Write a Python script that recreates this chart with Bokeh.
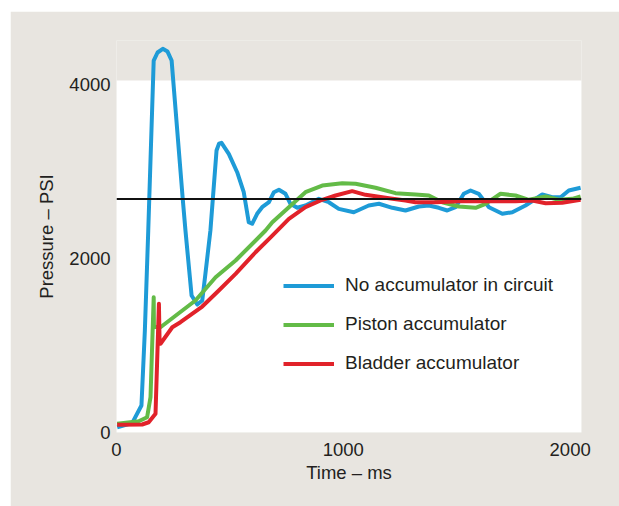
from bokeh.plotting import figure
from bokeh.layouts import column, row
from bokeh.models import Range1d, FixedTicker, Span, Legend, LegendItem, Spacer
from bokeh.embed import file_html
from bokeh.resources import INLINE

# ---- data ----
blue_x = [3, 69, 110, 125, 140, 164, 181, 204, 225, 243, 292, 304, 331, 356, 378, 392, 414,
          441, 452, 463, 495, 532, 561, 583, 598, 620, 642, 672, 694, 716, 745, 767, 797, 833,
          892, 936, 980, 1046, 1112, 1157, 1216, 1274, 1333, 1377, 1421, 1458, 1495, 1531,
          1561, 1597, 1642, 1701, 1745, 1803, 1877, 1921, 1958, 1994, 2046]
blue_y = [61, 107, 310, 1172, 2322, 4276, 4368, 4410, 4379, 4276, 2686, 2322, 1575, 1471, 1517,
          1824, 2322, 3241, 3320, 3330, 3203, 2992, 2762, 2417, 2399, 2514, 2590, 2647, 2762,
          2790, 2744, 2629, 2583, 2609, 2686, 2647, 2571, 2532, 2609, 2629, 2583, 2552, 2598,
          2609, 2583, 2552, 2590, 2744, 2782, 2744, 2590, 2514, 2532, 2609, 2736, 2705, 2705,
          2782, 2813]

green_x = [3, 98, 135, 150, 164, 165, 194, 348, 437, 525, 657, 687, 760, 833, 907, 995, 1054,
           1142, 1230, 1318, 1377, 1436, 1509, 1583, 1627, 1693, 1759, 1818, 1892, 1950, 2009,
           2046]
green_y = [100, 130, 176, 406, 1555, 1215, 1210, 1517, 1785, 1977, 2322, 2417, 2590, 2762,
           2839, 2866, 2859, 2813, 2751, 2736, 2724, 2647, 2598, 2583, 2629, 2744, 2724, 2675,
           2713, 2675, 2686, 2713]

red_x = [3, 113, 142, 172, 187, 190, 194, 246, 282, 378, 451, 525, 613, 687, 760, 833, 907,
         966, 1039, 1098, 1201, 1274, 1318, 1407, 1509, 1612, 1759, 1833, 1892, 1965, 2046]
red_y = [89, 92, 118, 215, 1479, 1040, 1020, 1210, 1268, 1448, 1632, 1824, 2072, 2264, 2456,
         2590, 2675, 2724, 2774, 2732, 2693, 2667, 2647, 2647, 2659, 2659, 2659, 2667, 2636,
         2640, 2675]

series_names = ["No accumulator in circuit", "Piston accumulator", "Bladder accumulator"]
reference_level = 2685
x_ticks = [0, 1000, 2000]
y_ticks = [0, 2000, 4000]
x_axis_title = "Time – ms"
y_axis_title = "Pressure – PSI"

# ---- styles ----
BEIGE = "#e8e5e0"
BLUE = "#1e9bd7"
GREEN = "#63bb47"
RED = "#e1222a"
TEXT = "#231f20"
FONT = "Liberation Sans"
FS_AXIS = "18.5px"
FS_LEGEND = "19px"

X_MAX = 2050
Y_MAX = 4506
WHITE_TOP = 4046

p = figure(width=609, height=495, output_backend="svg", toolbar_location=None,
           x_range=Range1d(0, X_MAX), y_range=Range1d(0, Y_MAX),
           min_border_left=106, min_border_right=38, min_border_top=29,
           min_border_bottom=74)
p.background_fill_color = BEIGE
p.border_fill_color = BEIGE
p.outline_line_color = None
p.xgrid.visible = False
p.ygrid.visible = False

# white plotting panel
p.quad(left=[0], right=[X_MAX], bottom=[0], top=[WHITE_TOP],
       fill_color="white", line_color=None)

p.add_layout(Span(location=reference_level, dimension="width",
                  line_color="#111111", line_width=2))

r_blue = p.line(blue_x, blue_y, line_color=BLUE, line_width=4, line_join="round")
r_green = p.line(green_x, green_y, line_color=GREEN, line_width=4, line_join="round")
r_red = p.line(red_x, red_y, line_color=RED, line_width=4, line_join="round")

for ax in (p.xaxis[0], p.yaxis[0]):
    ax.axis_line_color = None
    ax.major_tick_line_color = None
    ax.minor_tick_line_color = None
    ax.major_tick_out = 0
    ax.major_tick_in = 0
    ax.minor_tick_out = 0
    ax.minor_tick_in = 0
    ax.major_label_text_font = FONT
    ax.major_label_text_font_size = FS_AXIS
    ax.major_label_text_color = TEXT
    ax.axis_label_text_font = FONT
    ax.axis_label_text_font_size = FS_AXIS
    ax.axis_label_text_font_style = "normal"
    ax.axis_label_text_color = TEXT

p.xaxis[0].ticker = FixedTicker(ticks=x_ticks)
p.yaxis[0].ticker = FixedTicker(ticks=y_ticks)
p.xaxis[0].axis_label = x_axis_title
p.yaxis[0].axis_label = y_axis_title
p.xaxis[0].major_label_standoff = 10
p.xaxis[0].axis_label_standoff = 3
p.yaxis[0].major_label_standoff = 6
p.yaxis[0].axis_label_standoff = 9

legend = Legend(items=[LegendItem(label=series_names[0], renderers=[r_blue]),
                       LegendItem(label=series_names[1], renderers=[r_green]),
                       LegendItem(label=series_names[2], renderers=[r_red])],
                location=(167, 58), orientation="vertical",
                glyph_width=51, glyph_height=21, label_height=21, spacing=17,
                label_standoff=11, padding=0, margin=0,
                border_line_color=None, background_fill_alpha=0,
                label_text_font=FONT, label_text_font_size=FS_LEGEND,
                label_text_color=TEXT)
p.add_layout(legend, "center")

page = column(Spacer(height=11), row(Spacer(width=10), p))

open("out.html", "w").write(file_html(page, INLINE))
